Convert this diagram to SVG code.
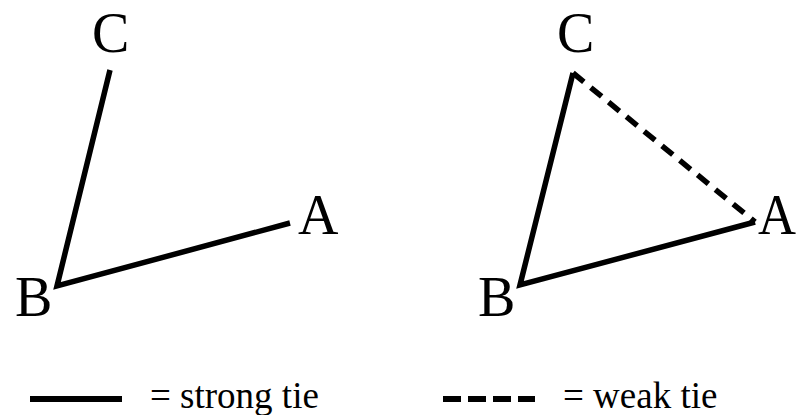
<svg xmlns="http://www.w3.org/2000/svg" width="799" height="415" viewBox="0 0 799 415">
<style>
.lbl{font-family:"Liberation Serif","Times New Roman",serif;font-size:56px;fill:#000}
.leg{font-family:"Liberation Serif","Times New Roman",serif;font-size:37px;fill:#000}
.strong{fill:none;stroke:#000;stroke-width:5.5;stroke-linejoin:miter;stroke-linecap:butt}
.weak{fill:none;stroke:#000;stroke-width:5.5;stroke-dasharray:14 9;stroke-linecap:butt}
</style>
<rect width="799" height="415" fill="#fff"/>
<g id="connectors">
<polyline class="strong" points="110,70 57,286 290,223"/>
<polyline class="strong" points="755,222 520,285 573,73"/>
<line class="weak" x1="573" y1="73" x2="755" y2="222"/>
<line class="strong" x1="30" y1="399" x2="122" y2="399" style="stroke-width:6"/>
<line class="weak" x1="443" y1="399" x2="535" y2="399" style="stroke-width:6;stroke-dasharray:18 7"/>
</g>
<g id="left-C"><text class="lbl" x="92" y="52">C</text></g>
<g id="left-B"><text class="lbl" x="15" y="316">B</text></g>
<g id="left-A"><text class="lbl" x="298" y="234">A</text></g>
<g id="right-C"><text class="lbl" x="557" y="52">C</text></g>
<g id="right-B"><text class="lbl" x="478" y="316">B</text></g>
<g id="right-A"><text class="lbl" x="758" y="234" textLength="38" lengthAdjust="spacingAndGlyphs">A</text></g>
<g id="legend">
<text class="leg" x="150" y="408">= strong tie</text>
<text class="leg" x="563" y="408">= weak tie</text>
</g>
</svg>
